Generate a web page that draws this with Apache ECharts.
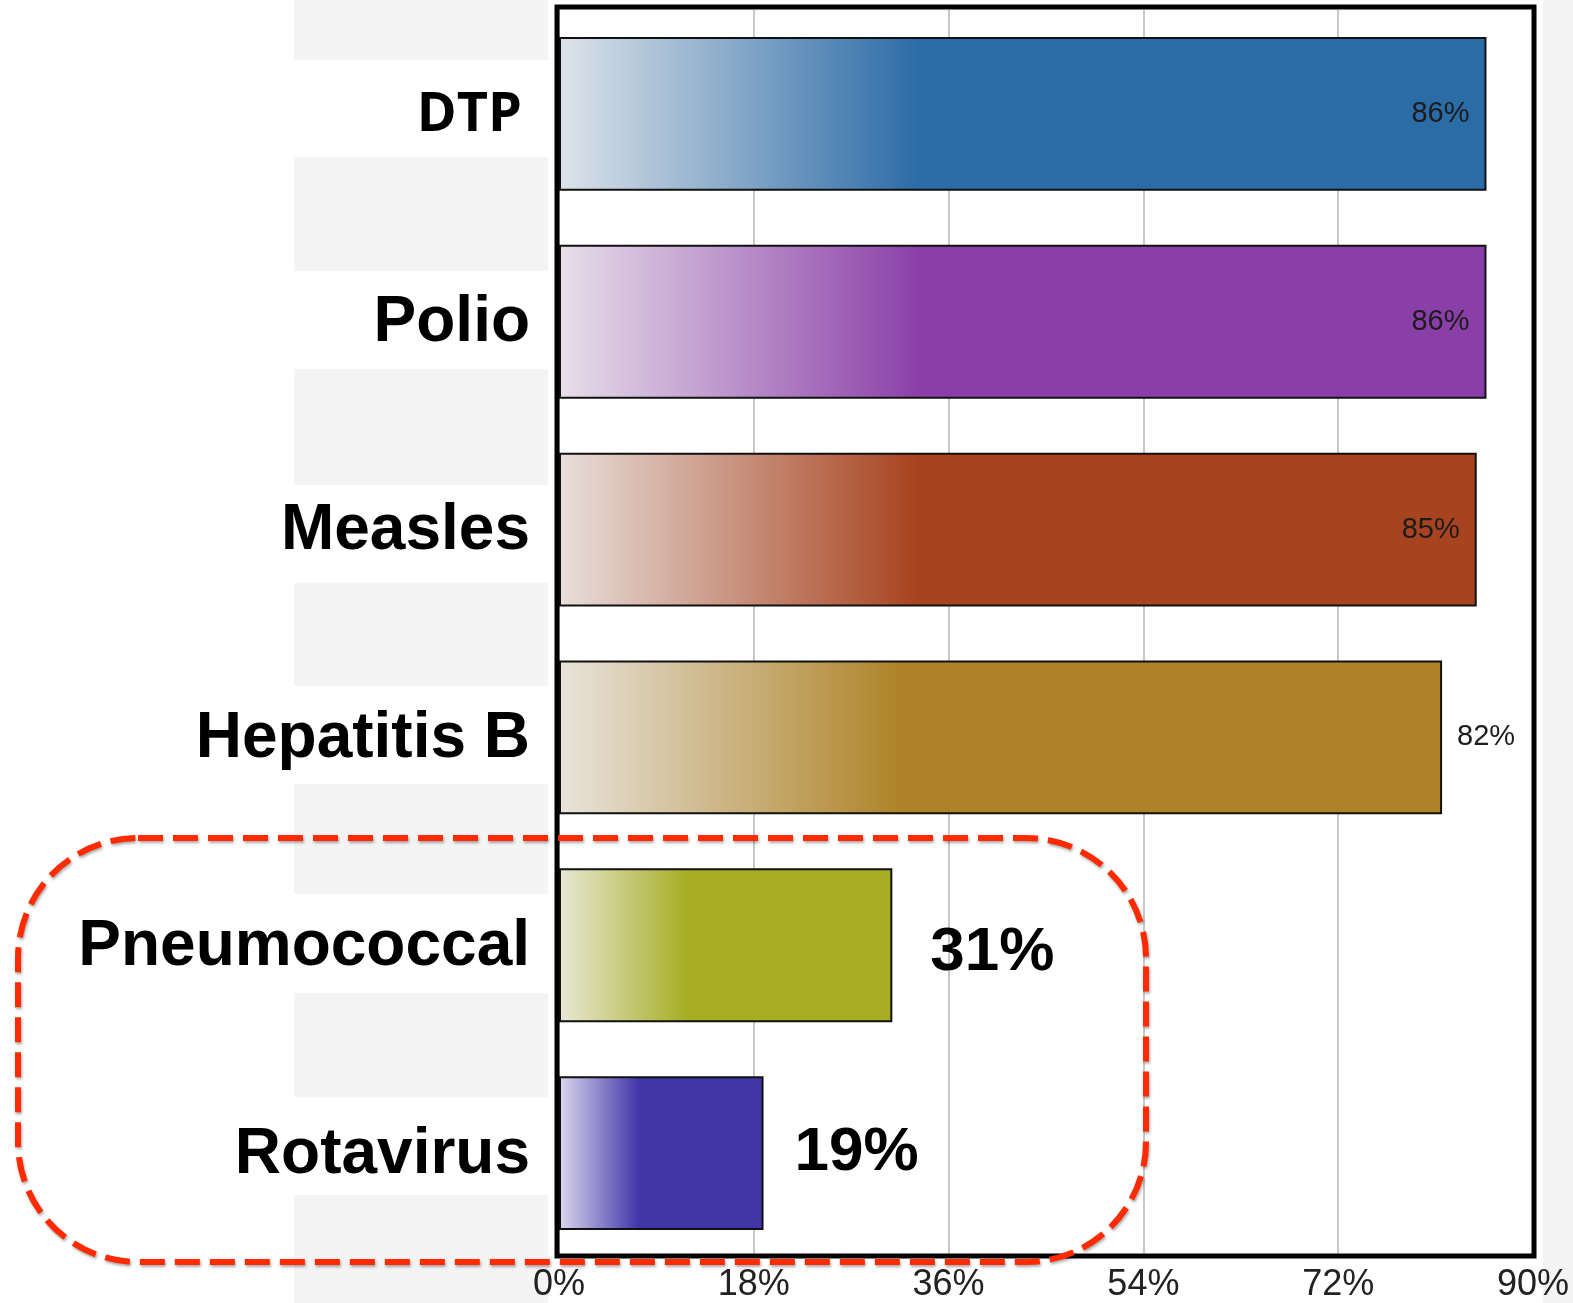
<!DOCTYPE html>
<html>
<head>
<meta charset="utf-8">
<script src="https://cdn.jsdelivr.net/npm/echarts@6/dist/echarts.min.js"></script>
<style>
html,body{margin:0;padding:0;background:#fff;}
#chart{width:1573px;height:1303px;}
</style>
</head>
<body>
<div id="chart"></div>
<script>
// ---- data ----
const categories = ['DTP', 'Polio', 'Measles', 'Hepatitis B', 'Pneumococcal', 'Rotavirus'];
const coverage = [85.7, 85.7, 84.8, 81.6, 30.8, 18.9];   // % (bar lengths as read)
const tickValues = [0, 18, 36, 54, 72, 90];
const solidColors = ['#2b6ba6', '#8a3fa8', '#a8431f', '#ae8226', '#a6ad22', '#4036a8'];
const lightColors = ['#dde3ea', '#e8dfea', '#e8dfdb', '#e8e4dc', '#e8e8d6', '#dcd8ee'];

// ---- styling per bar label (style config, not data) ----
const smallInside = {position: 'insideRight', distance: 17, fontSize: 29, color: '#1c1c1c',
  fontFamily: 'Liberation Sans', fontWeight: 'normal'};
const smallOutside = {position: 'right', distance: 15, fontSize: 29, color: '#1c1c1c',
  fontFamily: 'Liberation Sans', fontWeight: 'normal'};
const bigOutside = {position: 'right', distance: 40, fontSize: 62, color: '#000',
  fontFamily: 'Liberation Sans', fontWeight: 'bold'};
const labelStyles = [smallInside, smallInside, smallInside, smallOutside,
  Object.assign({}, bigOutside, {distance: 38, offset: [0, 8]}),
  Object.assign({}, bigOutside, {distance: 31})];

const barData = coverage.map((v, i) => ({
  value: v,
  itemStyle: {
    color: new echarts.graphic.LinearGradient(0, 0, 1, 0, [
      {offset: 0, color: lightColors[i]},
      {offset: 0.39, color: solidColors[i]},
      {offset: 1, color: solidColors[i]}
    ]),
    borderColor: '#111',
    borderWidth: 2
  },
  label: Object.assign({show: true, formatter: p => Math.round(p.value) + '%'}, labelStyles[i])
}));

const chart = echarts.init(document.getElementById('chart'), null, {renderer: 'canvas'});

// decorative gray stripes behind category labels (between label bands)
const stripes = [[0, 60], [157, 271], [369, 485], [583, 686], [784, 894], [993, 1097], [1195, 1303]];
const graphics = stripes.map(s => ({
  type: 'rect', z: -10, silent: true,
  shape: {x: 294, y: s[0], width: 254, height: s[1] - s[0]},
  style: {fill: '#f4f4f4'}
}));
graphics.push({
  type: 'rect', z: -10, silent: true,
  shape: {x: 1543, y: 0, width: 30, height: 1303},
  style: {fill: '#f4f4f4'}
});
// heavy plot frame
graphics.push({
  type: 'rect', z: 50, silent: true,
  shape: {x: 557, y: 7, width: 977, height: 1249},
  style: {fill: 'none', stroke: '#000', lineWidth: 5}
});
// red dashed highlight
graphics.push({
  type: 'rect', z: 100, silent: true,
  shape: {x: 18, y: 838, width: 1128, height: 424, r: 120},
  style: {
    fill: 'none', stroke: '#ff2a00', lineWidth: 6, lineDash: [25, 10],
    shadowBlur: 3, shadowColor: 'rgba(0,0,0,0.35)', shadowOffsetX: 1, shadowOffsetY: 2
  }
});

chart.setOption({
  animation: false,
  backgroundColor: '#ffffff',
  grid: {
    left: 559, right: 40, top: 10, bottom: 46,
    show: true, borderWidth: 0, backgroundColor: '#fff', z: 0
  },
  xAxis: {
    type: 'value', min: 0, max: 90, interval: 18,
    axisLine: {show: false}, axisTick: {show: false},
    splitLine: {show: true, lineStyle: {color: '#c8c8c8', width: 2}},
    axisLabel: {
      formatter: v => tickValues.includes(v) ? v + '%' : '',
      fontSize: 36, color: '#222', fontFamily: 'Liberation Sans', margin: 10
    }
  },
  yAxis: {
    type: 'category', data: categories, inverse: true,
    axisLine: {show: false}, axisTick: {show: false}, splitLine: {show: false},
    axisLabel: {
      margin: 29,
      formatter: (v, i) => i === 0 ? '{dtp|' + v + '}' : '{std|' + v + '}',
      rich: {
        dtp: {fontFamily: 'Open Sans', fontWeight: 'bold', fontSize: 54, color: '#000', padding: [4, 8, 0, 0]},
        std: {fontFamily: 'Liberation Sans', fontWeight: 'bold', fontSize: 64, color: '#000', padding: [4, 0, 0, 0]}
      }
    }
  },
  series: [{
    type: 'bar',
    data: barData,
    barCategoryGap: '26%',
    z: 2
  }],
  graphic: graphics
});
</script>
</body>
</html>
